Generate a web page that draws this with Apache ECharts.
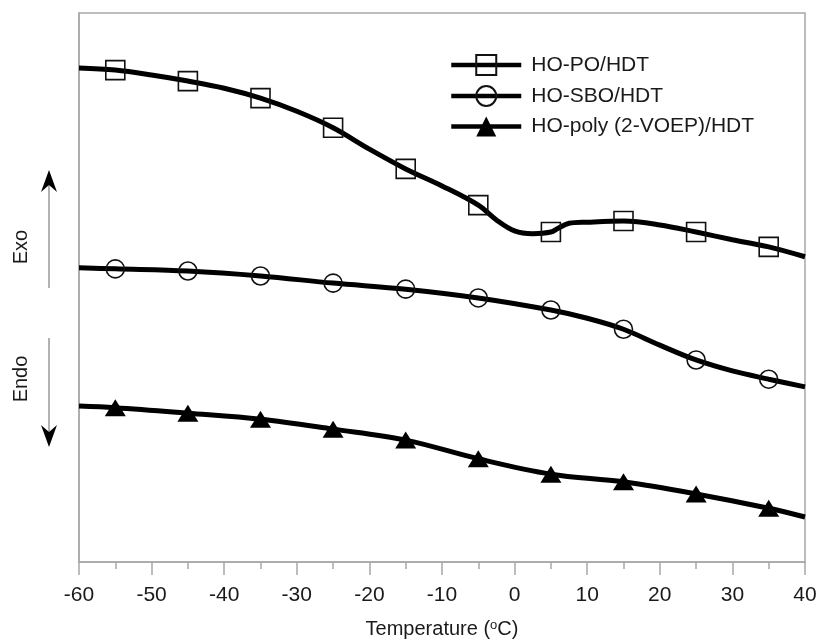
<!DOCTYPE html>
<html>
<head>
<meta charset="utf-8">
<script src="https://cdn.jsdelivr.net/npm/echarts@6/dist/echarts.min.js"></script>
<style>html,body{margin:0;padding:0;background:#fff}#c{width:817px;height:639px}</style>
</head>
<body>
<div id="c"></div>
<script>
// ---- data (arbitrary heat-flow units, y-axis unlabeled) ----
const xTicks = [-60, -50, -40, -30, -20, -10, 0, 10, 20, 30, 40];
const markerTemps = [-55, -45, -35, -25, -15, -5, 5, 15, 25, 35];

const tempsPO = [-60, -55, -50, -45, -40, -35, -30, -25, -20, -15, -10, -5, -2.5, 0, 2.5, 5, 6, 7.5, 10, 15, 20, 25, 30, 35, 40];
const valsPO  = [90.0, 89.6, 88.7, 87.6, 86.3, 84.5, 82.1, 79.1, 75.2, 71.6, 68.5, 65.0, 62.3, 60.3, 59.8, 60.1, 60.8, 61.7, 61.9, 62.1, 61.4, 60.1, 58.7, 57.4, 55.6];

const tempsSBO = [-60, -55, -45, -35, -25, -15, -5, 5, 10, 15, 20, 25, 30, 35, 40];
const valsSBO  = [53.6, 53.4, 53.0, 52.1, 50.8, 49.7, 48.1, 45.9, 44.4, 42.4, 39.5, 36.8, 34.8, 33.3, 31.9];

const tempsVOEP = [-60, -55, -45, -35, -25, -15, -5, 5, 15, 25, 35, 40];
const valsVOEP  = [28.4, 28.1, 27.1, 26.0, 24.2, 22.2, 18.8, 16.0, 14.6, 12.4, 9.8, 8.2];

const seriesNames = ['HO-PO/HDT', 'HO-SBO/HDT', 'HO-poly (2-VOEP)/HDT'];

function build(temps, vals) {
  return temps.map((t, i) => {
    const d = { value: [t, vals[i]] };
    if (markerTemps.indexOf(t) < 0) d.symbol = 'none';
    return d;
  });
}

const FONT = "'Liberation Sans', Arial, sans-serif";
const chart = echarts.init(document.getElementById('c'), null, { renderer: 'canvas' });

const baseSeries = {
  type: 'line',
  smooth: 0.35,
  showSymbol: true,
  showAllSymbol: true,
  lineStyle: { color: '#000', width: 5 },
  animation: false,
  z: 3
};

chart.setOption({
  backgroundColor: '#fff',
  animation: false,
  grid: { left: 79, right: 12, top: 13, bottom: 77, containLabel: false, outerBoundsMode: 'none',
    show: true, borderColor: '#a8a8a8', borderWidth: 1.5, backgroundColor: 'transparent' },
  legend: {
    orient: 'vertical', left: 449, top: 54, padding: 0,
    itemWidth: 70, itemHeight: 25, itemGap: 9,
    lineStyle: { width: 4.5, color: '#000' },
    textStyle: { fontFamily: FONT, fontSize: 21, color: '#1a1a1a', padding: [0, 0, 0, 5] },
    data: seriesNames
  },
  xAxis: {
    type: 'value', min: -60, max: 40, interval: 10,
    axisLine: { show: true, onZero: false, lineStyle: { color: '#a8a8a8', width: 1.5 } },
    axisTick: { show: true, inside: false, length: 13, lineStyle: { color: '#a8a8a8', width: 1.5 } },
    minorTick: { show: true, splitNumber: 2, length: 7, lineStyle: { color: '#a8a8a8', width: 1.5 } },
    splitLine: { show: false },
    axisLabel: { fontFamily: FONT, fontSize: 21, color: '#1a1a1a', margin: 23,
      customValues: xTicks },
    name: 'Temperature ({sup|o}C)',
    nameLocation: 'middle', nameGap: 57,
    nameTextStyle: { fontFamily: FONT, fontSize: 20, color: '#1a1a1a',
      rich: { sup: { fontFamily: FONT, fontSize: 13, color: '#1a1a1a', verticalAlign: 'top', padding: [0, 0, 7, 0] } } }
  },
  yAxis: {
    type: 'value', min: 0, max: 100,
    axisLine: { show: true, onZero: false, lineStyle: { color: '#a8a8a8', width: 1.5 } },
    axisTick: { show: false }, axisLabel: { show: false }, splitLine: { show: false }
  },
  graphic: [
    { type: 'line', shape: { x1: 49, y1: 288, x2: 49, y2: 184 }, style: { stroke: '#999', lineWidth: 1.5 } },
    { type: 'polygon', shape: { points: [[49, 170], [41, 192], [49, 185], [57, 192]] }, style: { fill: '#000' } },
    { type: 'line', shape: { x1: 49, y1: 338, x2: 49, y2: 433 }, style: { stroke: '#999', lineWidth: 1.5 } },
    { type: 'polygon', shape: { points: [[49, 447], [41, 425], [49, 432], [57, 425]] }, style: { fill: '#000' } },
    { type: 'text', x: 21, y: 247, rotation: Math.PI / 2, style: { text: 'Exo', fontFamily: FONT, fontSize: 20, fill: '#1a1a1a', align: 'center', verticalAlign: 'middle' } },
    { type: 'text', x: 21, y: 379, rotation: Math.PI / 2, style: { text: 'Endo', fontFamily: FONT, fontSize: 20, fill: '#1a1a1a', align: 'center', verticalAlign: 'middle' } }
  ],
  series: [
    Object.assign({}, baseSeries, {
      name: seriesNames[0], symbol: 'rect', symbolSize: 19,
      itemStyle: { color: 'transparent', borderColor: '#111', borderWidth: 1.6 },
      data: build(tempsPO, valsPO)
    }),
    Object.assign({}, baseSeries, {
      name: seriesNames[1], symbol: 'circle', symbolSize: 18,
      itemStyle: { color: 'transparent', borderColor: '#111', borderWidth: 1.6 },
      data: build(tempsSBO, valsSBO)
    }),
    Object.assign({}, baseSeries, {
      name: seriesNames[2], symbol: 'triangle', symbolSize: [21, 17],
      itemStyle: { color: '#000', borderColor: '#000', borderWidth: 0 },
      data: build(tempsVOEP, valsVOEP)
    })
  ]
});
</script>
</body>
</html>
